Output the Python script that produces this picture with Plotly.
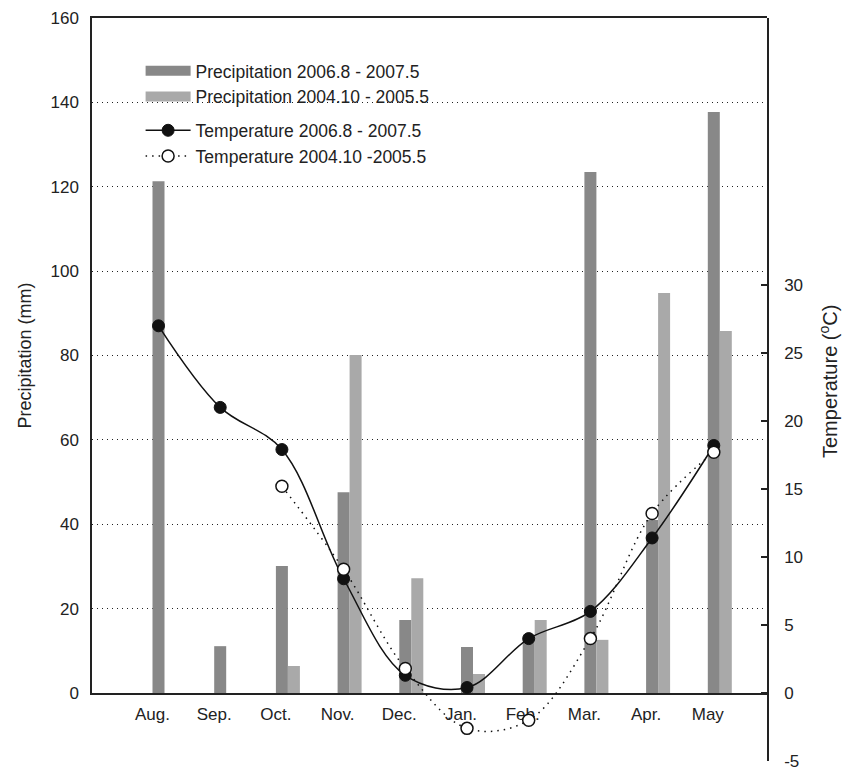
import plotly.graph_objects as go

months = ["Aug.", "Sep.", "Oct.", "Nov.", "Dec.", "Jan.", "Feb.", "Mar.", "Apr.", "May"]
precip_0607 = [121.3, 11.1, 30.1, 47.6, 17.3, 10.9, 13.0, 123.5, 41.0, 137.7]
precip_0405 = [None, None, 6.4, 80.1, 27.2, 4.5, 17.3, 12.6, 94.8, 85.8]
temp_0607 = [27.0, 21.0, 17.9, 8.4, 1.3, 0.4, 4.0, 6.0, 11.4, 18.2]
temp_0405 = [None, None, 15.2, 9.1, 1.8, -2.6, -2.0, 4.0, 13.2, 17.7]

left_ticks = [0, 20, 40, 60, 80, 100, 120, 140, 160]
right_ticks = [-5, 0, 5, 10, 15, 20, 25, 30]
right_ticktext = ["-5", "0", "5", "10", "15", "20", "25", "30"]

DARK = "#888888"
LIGHT = "#a9a9a9"
TXT = "#222222"
FONT = "Liberation Sans, Arial, sans-serif"

W, H = 853, 771
L, R, T, B = 92, 767, 18, 761
plot_h = B - T
y_bottom_frac = (B - 693) / plot_h

x_range = [-1.175, 9.765]
x2_shift = 0.097
temp_top = (693 - 18) / 13.6

fig = go.Figure()

fig.add_trace(go.Bar(x=months, y=precip_0607, marker=dict(color=DARK, line=dict(width=0)),
                     name="Precipitation 2006.8 - 2007.5", showlegend=False,
                     xaxis="x", yaxis="y"))
fig.add_trace(go.Bar(x=months, y=precip_0405, marker=dict(color=LIGHT, line=dict(width=0)),
                     name="Precipitation 2004.10 - 2005.5", showlegend=False,
                     xaxis="x", yaxis="y"))

# legend-only swatches for the bars (wide rectangles)
fig.add_trace(go.Scatter(x=[None], y=[None], mode="lines", line=dict(color=DARK, width=10),
                         name="Precipitation 2006.8 - 2007.5", legendgroup="p",
                         xaxis="x", yaxis="y"))
fig.add_trace(go.Scatter(x=[None], y=[None], mode="lines", line=dict(color=LIGHT, width=10),
                         name="Precipitation 2004.10 - 2005.5", legendgroup="p",
                         xaxis="x", yaxis="y"))

fig.add_trace(go.Scatter(x=months, y=temp_0607, mode="lines+markers",
                         line=dict(color="#111111", width=1.5, shape="spline", smoothing=1.0),
                         marker=dict(size=12, color="#111111", line=dict(color="#111111", width=1)),
                         name="Temperature 2006.8 - 2007.5", legendgroup="t",
                         xaxis="x2", yaxis="y2"))
fig.add_trace(go.Scatter(x=months, y=temp_0405, mode="lines+markers",
                         line=dict(color="#111111", width=1.5, shape="spline", smoothing=1.0, dash="1.5px,5px"),
                         marker=dict(size=12, color="white", line=dict(color="#111111", width=1.5)),
                         name="Temperature 2004.10 -2005.5", legendgroup="t",
                         xaxis="x2", yaxis="y2"))

fig.update_layout(
    width=W, height=H,
    margin=dict(l=L, r=W - R, t=T, b=H - B, autoexpand=False),
    paper_bgcolor="white", plot_bgcolor="rgba(0,0,0,0)",
    font=dict(family=FONT, size=17, color=TXT),
    barmode="group", bargap=0.611, bargroupgap=0,
    xaxis=dict(type="category", categoryorder="array", categoryarray=months,
               range=x_range, domain=[0, 1], anchor="y", automargin=False,
               showline=True, linecolor="#222222", linewidth=1.5, mirror=True,
               showgrid=False, ticks="", ticklabelshift=-12, ticklabelstandoff=5,
               tickfont=dict(size=17, color=TXT), zeroline=False),
    yaxis=dict(range=[0, 160], domain=[y_bottom_frac, 1], anchor="x", automargin=False,
               tickvals=left_ticks, ticks="", ticklabelstandoff=8,
               showline=True, linecolor="#222222", linewidth=1.5,
               showgrid=True, gridcolor="#222222", gridwidth=1, griddash="1px,4px",
               zeroline=False, tickfont=dict(size=17, color=TXT),
               title=dict(text="Precipitation (mm)", font=dict(size=18, color=TXT), standoff=14)),
    xaxis2=dict(type="category", categoryorder="array", categoryarray=months,
                range=[x_range[0] + x2_shift, x_range[1] + x2_shift], domain=[0, 1],
                anchor="y2", visible=False, showgrid=False, automargin=False),
    yaxis2=dict(range=[-5, temp_top], domain=[0, 1], anchor="x2", side="right", automargin=False,
                tickvals=right_ticks, ticktext=right_ticktext,
                ticks="inside", ticklen=6, tickcolor="#222222", tickwidth=1.5,
                ticklabelstandoff=12,
                showline=True, linecolor="#222222", linewidth=1.5,
                showgrid=False, zeroline=False, tickfont=dict(size=17, color=TXT)),
    legend=dict(x=0.072, y=0.953, xanchor="left", yanchor="top",
                bgcolor="rgba(0,0,0,0)", font=dict(size=17.5, color=TXT),
                traceorder="grouped", tracegroupgap=8, itemwidth=45),
    annotations=[dict(text="Temperature (<sup>o</sup>C)", xref="paper", yref="paper",
                      x=1.0, xshift=61, y=(761 - 382) / plot_h, textangle=-90,
                      showarrow=False, font=dict(size=20, color=TXT),
                      xanchor="center", yanchor="middle")],
)

fig.write_html("out.html")
